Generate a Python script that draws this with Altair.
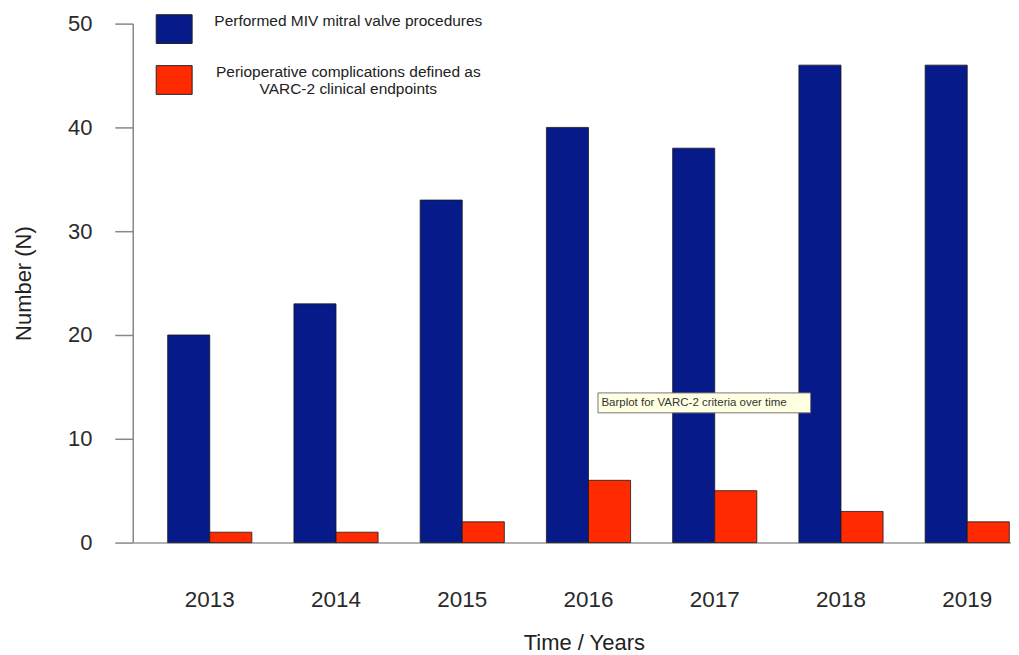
import altair as alt
import pandas as pd

years = ["2013", "2014", "2015", "2016", "2017", "2018", "2019"]
procedures = [20, 23, 33, 40, 38, 46, 46]
complications = [1, 1, 2, 6, 5, 3, 2]
series_names = ["Performed MIV mitral valve procedures",
                "Perioperative complications defined as|VARC-2 clinical endpoints"]
bar_colors = ["#061a8a", "#ff2a00"]

note_text = "Barplot for VARC-2 criteria over time"
note_year = "2016"
note_value = 13.46

rows = []
for y, p, c in zip(years, procedures, complications):
    rows.append({"year": y, "series": series_names[0], "value": p})
    rows.append({"year": y, "series": series_names[1], "value": c})
df = pd.DataFrame(rows)

font = "Liberation Sans"

x_enc = alt.X("year:N", sort=years,
              scale=alt.Scale(paddingInner=1/3, paddingOuter=0.145, align=0.954),
              axis=alt.Axis(title="Time / Years", labelAngle=0, ticks=False,
                            labelPadding=46, titlePadding=22, labelFontSize=22.5,
                            titleFontSize=22, labelColor="#2a2a2a", titleColor="#222",
                            titleFontWeight="normal", domainColor="#999",
                            domainWidth=1.5, labelFont=font, titleFont=font,
                            titleX=452))
y_enc = alt.Y("value:Q", scale=alt.Scale(domain=[0, 50]),
              axis=alt.Axis(title="Number (N)", values=[0, 10, 20, 30, 40, 50],
                            tickSize=18, tickColor="#888", tickWidth=1.5,
                            domainColor="#888", domainWidth=1.5, grid=False,
                            labelPadding=23, titlePadding=32, labelFontSize=22,
                            titleFontSize=22, labelColor="#2a2a2a", titleColor="#222",
                            titleFontWeight="normal", labelFont=font, titleFont=font))

bars = alt.Chart(df).mark_bar(stroke="#1a1a1a", strokeWidth=0.8).encode(
    x=x_enc,
    y=y_enc,
    xOffset=alt.XOffset("series:N", sort=series_names, scale=alt.Scale(paddingInner=0)),
    color=alt.Color("series:N", sort=series_names,
                    scale=alt.Scale(domain=series_names, range=bar_colors),
                    legend=alt.Legend(title=None, orient="none", legendX=23, legendY=-13,
                                      symbolType="M-1,-0.8L1,-0.8L1,0.8L-1,0.8Z",
                                      symbolSize=1296, symbolOpacity=1,
                                      symbolStrokeColor="#222", symbolStrokeWidth=1,
                                      labelAlign="center", labelOffset=156,
                                      labelBaseline="bottom",
                                      labelFontSize=15.5, labelFont=font,
                                      labelColor="#222", labelLimit=400,
                                      rowPadding=16,
                                      labelExpr="split(datum.label, '|')")),
)

note_df = pd.DataFrame({"year": [note_year], "value": [note_value],
                        "top": [note_value + 0.96], "bottom": [note_value - 0.96],
                        "text": [note_text]})
note_box = alt.Chart(note_df).mark_bar(width=213, xOffset=116, fill="#ffffe1",
                                       stroke="#777", strokeWidth=1).encode(
    x=alt.X("year:N", sort=years),
    y=alt.Y("top:Q"), y2="bottom:Q")
note_txt = alt.Chart(note_df).mark_text(align="left", dx=13, fontSize=11.5, font=font,
                                        color="#333", baseline="middle").encode(
    x=alt.X("year:N", sort=years), y=alt.Y("value:Q"),
    text="text:N")

chart = alt.layer(bars, note_box, note_txt).properties(
    width=880, height=520, background="white",
    padding={"left": 4, "top": 2, "right": 0, "bottom": 0},
).configure_view(strokeWidth=0, strokeOpacity=0).configure_axis(grid=False)

chart.save("out.html", embed_options={"renderer": "svg", "actions": False})
